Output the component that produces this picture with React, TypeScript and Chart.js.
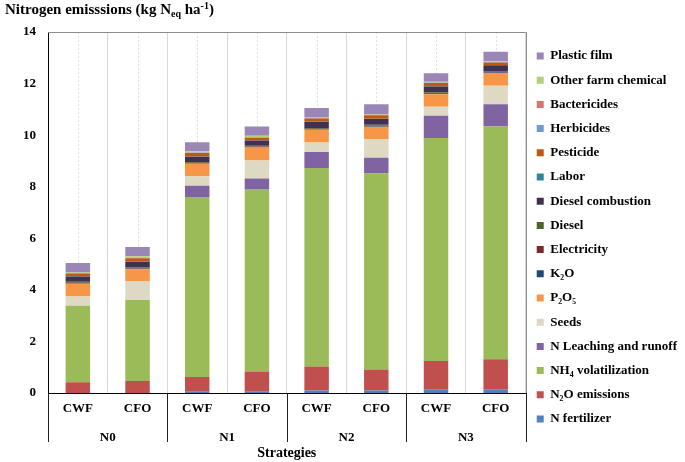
import React, { useEffect, useRef } from "react";
import { Chart, registerables } from "chart.js";

Chart.register(...registerables);

const categories = ["CWF", "CFO", "CWF", "CFO", "CWF", "CFO", "CWF", "CFO"];
const groups = ["N0", "N1", "N2", "N3"];
const yTicks = [0, 2, 4, 6, 8, 10, 12, 14];

const nFertilizer = [0, 0, 0.05, 0.05, 0.1, 0.1, 0.15, 0.15];
const n2oEmissions = [0.42, 0.47, 0.57, 0.78, 0.93, 0.81, 1.09, 1.16];
const nh4Volatilization = [2.96, 3.14, 6.98, 7.08, 7.7, 7.6, 8.65, 9.03];
const nLeaching = [0, 0, 0.44, 0.41, 0.62, 0.61, 0.86, 0.86];
const seeds = [0.36, 0.71, 0.37, 0.7, 0.36, 0.71, 0.35, 0.72];
const p2o5 = [0.5, 0.48, 0.48, 0.5, 0.5, 0.5, 0.49, 0.49];
const k2o = [0.02, 0.02, 0.02, 0.02, 0.02, 0.02, 0.02, 0.02];
const electricity = [0.02, 0.02, 0.02, 0.02, 0.02, 0.02, 0.02, 0.02];
const diesel = [0.03, 0.03, 0.03, 0.03, 0.03, 0.03, 0.03, 0.03];
const dieselCombustion = [0.21, 0.22, 0.2, 0.2, 0.23, 0.23, 0.23, 0.23];
const labor = [0.01, 0.01, 0.01, 0.01, 0.01, 0.01, 0.01, 0.01];
const pesticide = [0.1, 0.13, 0.14, 0.1, 0.13, 0.13, 0.12, 0.1];
const herbicides = [0.01, 0.01, 0.01, 0.01, 0.01, 0.01, 0.01, 0.01];
const bactericides = [0.01, 0.01, 0.01, 0.01, 0.01, 0.01, 0.01, 0.01];
const otherFarmChemical = [0.02, 0.05, 0.05, 0.06, 0.02, 0.02, 0.03, 0.03];
const plasticFilm = [0.37, 0.36, 0.34, 0.36, 0.36, 0.39, 0.33, 0.36];

const seriesNames = [
  "N fertilizer",
  "N\u2082O emissions",
  "NH\u2084 volatilization",
  "N Leaching and runoff",
  "Seeds",
  "P\u2082O\u2085",
  "K\u2082O",
  "Electricity",
  "Diesel",
  "Diesel combustion",
  "Labor",
  "Pesticide",
  "Herbicides",
  "Bactericides",
  "Other farm chemical",
  "Plastic film",
];
const seriesValues = [
  nFertilizer,
  n2oEmissions,
  nh4Volatilization,
  nLeaching,
  seeds,
  p2o5,
  k2o,
  electricity,
  diesel,
  dieselCombustion,
  labor,
  pesticide,
  herbicides,
  bactericides,
  otherFarmChemical,
  plasticFilm,
];
const seriesColors = [
  "#4f81bd",
  "#c0504d",
  "#9bbb59",
  "#8064a2",
  "#ddd9c3",
  "#f79646",
  "#1f497d",
  "#7b2a28",
  "#4f6228",
  "#403151",
  "#31859c",
  "#c0580e",
  "#6f9bd1",
  "#da7370",
  "#b3d07a",
  "#9b86b8",
];

const FONT = '"Liberation Serif", "Times New Roman", serif';

const decor = {
  id: "decor",
  beforeDatasetsDraw(chart: any) {
    const { ctx, chartArea: a, scales } = chart;
    const x = scales.x;
    ctx.save();
    ctx.strokeStyle = "#e2e2e2";
    ctx.lineWidth = 1;
    ctx.setLineDash([2, 2]);
    for (let i = 0; i < categories.length; i++) {
      const px = Math.round(x.getPixelForValue(i)) + 0.5;
      ctx.beginPath();
      ctx.moveTo(px, a.top);
      ctx.lineTo(px, a.bottom);
      ctx.stroke();
    }
    ctx.restore();
  },
  afterDraw(chart: any) {
    const { ctx, chartArea: a, scales } = chart;
    const x = scales.x;
    ctx.save();
    ctx.strokeStyle = "#8c8c8c";
    ctx.lineWidth = 1;
    ctx.beginPath();
    ctx.moveTo(a.left, Math.round(a.top) + 0.5);
    ctx.lineTo(a.right, Math.round(a.top) + 0.5);
    ctx.moveTo(Math.round(a.right) + 0.5, a.top);
    ctx.lineTo(Math.round(a.right) + 0.5, a.bottom);
    ctx.stroke();
    const step = x.getPixelForValue(1) - x.getPixelForValue(0);
    ctx.strokeStyle = "#202020";
    ctx.beginPath();
    for (let g = 0; g <= groups.length; g++) {
      const px = Math.round(x.getPixelForValue(g * 2) - step / 2) + 0.5;
      ctx.moveTo(px, a.bottom);
      ctx.lineTo(px, a.bottom + 49);
    }
    ctx.stroke();
    ctx.fillStyle = "#000";
    ctx.font = `bold 14px ${FONT}`;
    ctx.textAlign = "center";
    ctx.textBaseline = "middle";
    ctx.fillText("Strategies", (a.left + a.right) / 2, 453);
    ctx.restore();
  },
};

export default function App() {
  const ref = useRef<HTMLCanvasElement>(null);
  useEffect(() => {
    const canvas = ref.current;
    if (!canvas) return;
    const chart = new Chart(canvas, {
      type: "bar",
      data: {
        labels: categories,
        datasets: seriesNames.map((name, i) => ({
          label: name,
          data: seriesValues[i],
          backgroundColor: seriesColors[i],
          borderWidth: 0,
          barPercentage: 0.41,
          categoryPercentage: 1,
        })),
      },
      options: {
        responsive: false,
        animation: false,
        maintainAspectRatio: false,
        layout: { padding: { top: 32, bottom: 19, left: 0, right: -2 } },
        plugins: {
          tooltip: { enabled: false },
          title: { display: false },
          legend: {
            position: "right",
            reverse: true,
            labels: {
              boxWidth: 7,
              boxHeight: 7,
              padding: 11.2,
              color: "#000",
              font: { family: FONT, size: 13, weight: "bold" },
            },
          },
        },
        scales: {
          x: {
            type: "category",
            stacked: true,
            position: "bottom",
            grid: { offset: true, color: "#d9d9d9", drawTicks: false },
            border: { display: true, color: "#000", width: 1 },
            ticks: {
              color: "#000",
              font: { family: FONT, size: 13, weight: "bold" },
              padding: 8,
              maxRotation: 0,
              autoSkip: false,
            },
            afterFit: (s: any) => {
              s.height = 27;
            },
          },
          x2: {
            type: "category",
            labels: groups,
            offset: true,
            position: "bottom",
            grid: { display: false, drawTicks: false },
            border: { display: false },
            ticks: {
              color: "#000",
              font: { family: FONT, size: 13, weight: "bold" },
              padding: 10,
              maxRotation: 0,
              autoSkip: false,
            },
            afterFit: (s: any) => {
              s.height = 23;
            },
          },
          y: {
            stacked: true,
            min: 0,
            max: 14,
            afterBuildTicks: (s: any) => {
              s.ticks = yTicks.map((v) => ({ value: v }));
            },
            grid: { display: false, drawTicks: false },
            border: { display: true, color: "#000", width: 1 },
            ticks: {
              color: "#000",
              font: { family: FONT, size: 13, weight: "bold" },
              padding: 12,
            },
            afterFit: (s: any) => {
              s.width = 48;
            },
          },
        },
      },
      plugins: [decor],
    } as any);
    return () => chart.destroy();
  }, []);

  return (
    <div style={{ position: "fixed", left: 0, top: 0, width: 685, height: 462, background: "#fff" }}>
      <canvas ref={ref} width={685} height={462} style={{ display: "block" }} />
      <div
        style={{
          position: "absolute",
          left: 5,
          top: 1,
          font: `bold 15px ${FONT}`,
          lineHeight: "17px",
          whiteSpace: "nowrap",
          color: "#000",
        }}
      >
        Nitrogen emisssions (kg N
        <span style={{ fontSize: 10, position: "relative", top: 3 }}>eq</span> ha
        <span style={{ fontSize: 10, position: "relative", top: -5 }}>-1</span>)
      </div>
    </div>
  );
}
